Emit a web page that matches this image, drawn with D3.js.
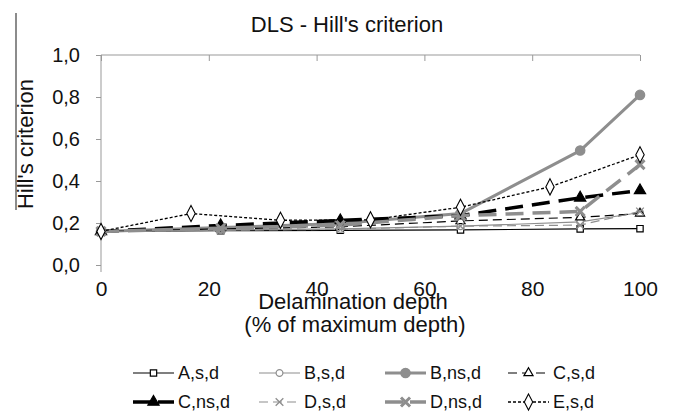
<!DOCTYPE html>
<html>
<head>
<meta charset="utf-8">
<script src="https://cdn.jsdelivr.net/npm/d3@7"></script>
<style>
  html, body { margin: 0; padding: 0; background: #fff; }
  svg { display: block; font-family: "Liberation Sans", Arial, sans-serif; }
</style>
</head>
<body>
<svg id="chart" width="676" height="413"></svg>
<script>
// ---- data ----
const xMain = [0, 22.2, 44.4, 66.7, 88.9, 100];
const xE = [0, 16.7, 33.3, 50, 66.7, 83.3, 100];
const A_s_d  = [0.160, 0.163, 0.165, 0.167, 0.172, 0.173];
const B_s_d  = [0.160, 0.167, 0.172, 0.185, 0.205, 0.250];
const B_ns_d = [0.160, 0.178, 0.198, 0.245, 0.545, 0.810];
const C_s_d  = [0.160, 0.172, 0.182, 0.210, 0.227, 0.245];
const C_ns_d = [0.160, 0.188, 0.212, 0.235, 0.320, 0.355];
const D_s_d  = [0.160, 0.165, 0.170, 0.185, 0.190, 0.255];
const D_ns_d = [0.160, 0.175, 0.190, 0.235, 0.255, 0.478];
const E_s_d  = [0.160, 0.245, 0.213, 0.215, 0.275, 0.372, 0.525];
const seriesNames = ["A,s,d", "B,s,d", "B,ns,d", "C,s,d", "C,ns,d", "D,s,d", "D,ns,d", "E,s,d"];
const xTicks = [0, 20, 40, 60, 80, 100];
const yTicks = [0, 0.2, 0.4, 0.6, 0.8, 1.0];
const titleText = "DLS - Hill's criterion";
const yTitle = "Hill's criterion";
const xTitle1 = "Delamination depth";
const xTitle2 = "(% of maximum depth)";

// ---- styles ----
const GRAY = "#8e8e8e";
const styles = {
  "A,s,d":  {x: xMain, y: A_s_d,  color: "#000", width: 1.2, dash: null,   sym: "square",   fill: "#fff", size: 40},
  "B,s,d":  {x: xMain, y: B_s_d,  color: GRAY,   width: 1.2, dash: null,   sym: "circle",   fill: "#fff", size: 36},
  "B,ns,d": {x: xMain, y: B_ns_d, color: GRAY,   width: 3,   dash: null,   sym: "circle",   fill: GRAY,   size: 70},
  "C,s,d":  {x: xMain, y: C_s_d,  color: "#000", width: 1.2, dash: "9,5",  sym: "triangle", fill: "#fff", size: 36},
  "C,ns,d": {x: xMain, y: C_ns_d, color: "#000", width: 3.5, dash: "18,9", sym: "triangle", fill: "#000", size: 55},
  "D,s,d":  {x: xMain, y: D_s_d,  color: GRAY,   width: 1.2, dash: "9,5",  sym: "x",        fill: "none", size: 40},
  "D,ns,d": {x: xMain, y: D_ns_d, color: GRAY,   width: 3.5, dash: "18,9", sym: "x",        fill: "none", size: 55, symW: 3},
  "E,s,d":  {x: xE,    y: E_s_d,  color: "#000", width: 1.3, dash: "3,2",  sym: "diamond",  fill: "#fff", size: 75}
};

const svg = d3.select("#chart");
const xScale = d3.scaleLinear().domain([0, 100]).range([101, 640]);
const yScale = d3.scaleLinear().domain([0, 1]).range([265, 55]);
const loc = d3.formatLocale({decimal: ",", thousands: ".", grouping: [3], currency: ["", ""]});
const fmt = loc.format(".1f");
const FONT = "Liberation Sans, Arial, sans-serif";

// stray border line at far left
svg.append("line").attr("x1", 16).attr("x2", 16).attr("y1", 13).attr("y2", 210)
  .attr("stroke", "#666").attr("stroke-width", 1.5);

// title
svg.append("text").attr("x", 347).attr("y", 32).attr("text-anchor", "middle")
  .attr("font-size", 22).attr("fill", "#111").text(titleText);

// top axis line with downward ticks
const topAxis = svg.append("g").attr("transform", `translate(0,${yScale(1)})`)
  .call(d3.axisBottom(xScale).tickValues(xTicks).tickSize(6).tickFormat(""));
topAxis.selectAll("path, line").attr("stroke", "#999");
topAxis.select(".domain").attr("d", `M${xScale(0)},0H${xScale(100)}`);

// left axis
const leftAxis = svg.append("g").attr("transform", `translate(${xScale(0)},0)`)
  .call(d3.axisLeft(yScale).tickValues(yTicks).tickSize(5).tickPadding(16).tickFormat(fmt));
leftAxis.select(".domain").attr("d", `M0,${yScale(1)}V${yScale(0) + 7}`);
leftAxis.selectAll("path, line").attr("stroke", "#999");
leftAxis.selectAll("text").attr("font-size", 20).attr("fill", "#111").attr("font-family", FONT);

// bottom tick labels
const botAxis = svg.append("g").attr("transform", `translate(0,${yScale(0)})`)
  .call(d3.axisBottom(xScale).tickValues(xTicks).tickSize(0).tickPadding(16));
botAxis.select(".domain").remove();
botAxis.selectAll("text").attr("font-size", 21).attr("fill", "#111").attr("font-family", FONT);

// axis titles
svg.append("text").attr("transform", "translate(33,144) rotate(-90)").attr("text-anchor", "middle")
  .attr("font-size", 22).attr("fill", "#111").text(yTitle);
svg.append("text").attr("x", 353).attr("y", 309).attr("text-anchor", "middle")
  .attr("font-size", 22).attr("fill", "#111").text(xTitle1);
svg.append("text").attr("x", 355).attr("y", 332).attr("text-anchor", "middle")
  .attr("font-size", 22).attr("fill", "#111").text(xTitle2);

function symbolPath(st) {
  const types = {
    square: d3.symbolSquare, circle: d3.symbolCircle, triangle: d3.symbolTriangle,
    diamond: d3.symbolDiamond, x: d3.symbolTimes || d3.symbolX
  };
  return d3.symbol().type(types[st.sym]).size(st.size)();
}
function drawMarker(g, st, px, py) {
  const p = g.append("path").attr("d", symbolPath(st))
    .attr("transform", `translate(${px},${py})` + (st.sym === "diamond" ? " scale(0.9,1)" : ""));
  if (st.sym === "x") {
    p.attr("fill", "none").attr("stroke", st.color).attr("stroke-width", st.symW || 1.3);
  } else {
    p.attr("fill", st.fill).attr("stroke", st.color).attr("stroke-width", 1.2);
  }
}

const line = d3.line().x(d => xScale(d[0])).y(d => yScale(d[1]));
const plot = svg.append("g");
seriesNames.forEach(name => {
  const st = styles[name];
  const pts = st.x.map((xv, i) => [xv, st.y[i]]);
  const g = plot.append("g");
  g.append("path").datum(pts).attr("d", line).attr("fill", "none")
    .attr("stroke", st.color).attr("stroke-width", st.width)
    .attr("stroke-dasharray", st.dash).attr("stroke-linejoin", "round");
  pts.forEach(p => drawMarker(g, st, xScale(p[0]), yScale(p[1])));
});

// legend
const legCols = [133, 259, 385, 508];
const legRows = [373, 402];
const leg = svg.append("g");
seriesNames.forEach((name, i) => {
  const st = styles[name];
  const cx = legCols[i % 4], cy = legRows[Math.floor(i / 4)];
  const g = leg.append("g");
  g.append("line").attr("x1", cx).attr("x2", cx + 41).attr("y1", cy).attr("y2", cy)
    .attr("stroke", st.color).attr("stroke-width", st.width)
    .attr("stroke-dasharray", st.dash ? (st.width > 2 ? "18,7" : (st.dash === "3,2" ? "3,2" : "9,5")) : null);
  drawMarker(g, st, cx + 20.5, cy);
  g.append("text").attr("x", cx + 45).attr("y", cy).attr("dy", "0.35em")
    .attr("font-size", 18).attr("fill", "#111").text(name);
});
</script>
</body>
</html>
